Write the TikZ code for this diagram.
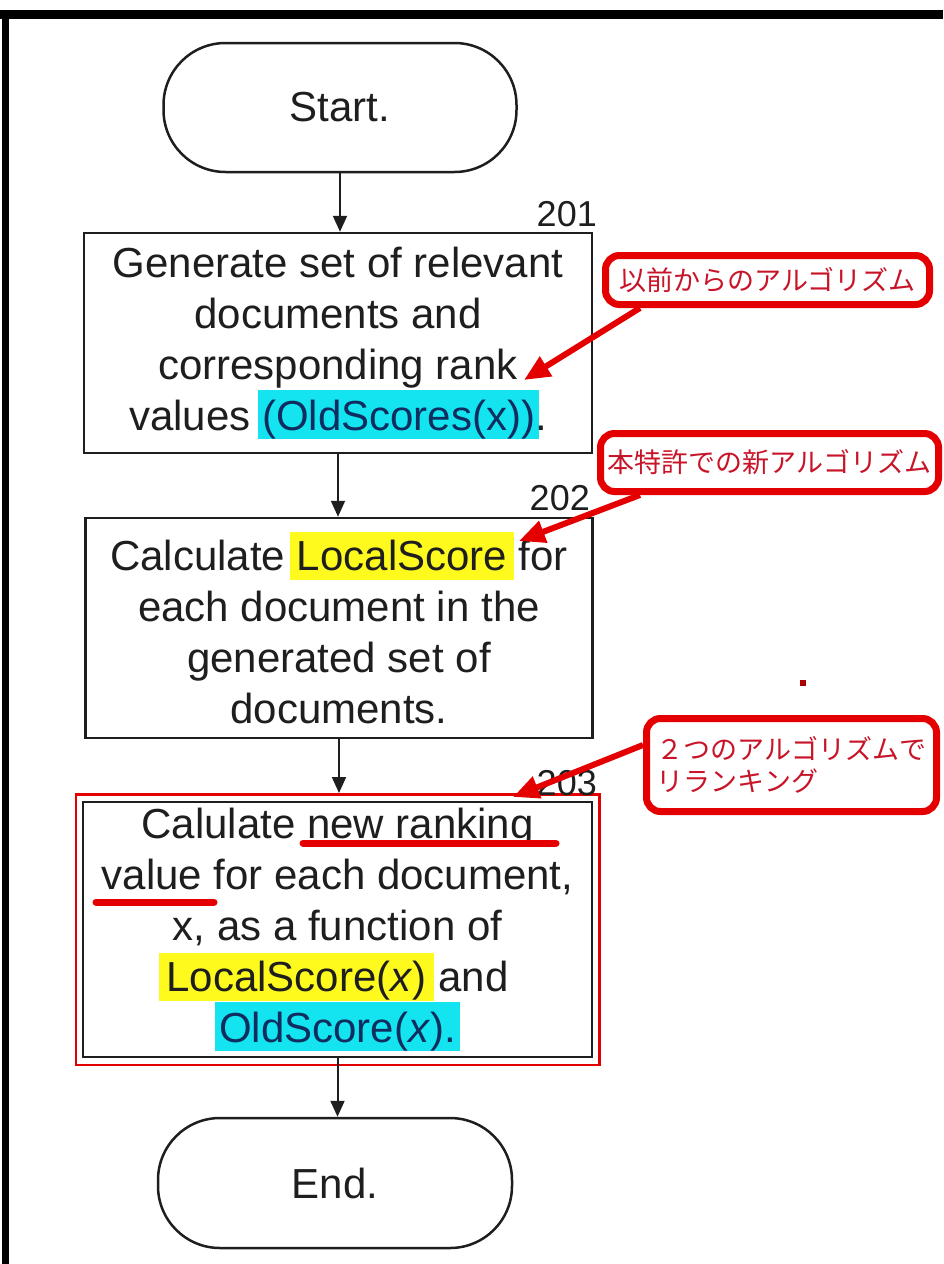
\documentclass[tikz,border=0pt]{standalone}
\usepackage{fontspec}
\setmainfont{Liberation Sans}
\newfontfamily\cjk{Noto Sans CJK JP}
\usetikzlibrary{arrows.meta,fit}
\definecolor{hlcyan}{RGB}{20,228,240}
\definecolor{hlyellow}{RGB}{255,250,30}
\definecolor{mred}{RGB}{228,0,0}
\definecolor{jred}{RGB}{200,20,40}
\definecolor{ink}{RGB}{30,30,30}
\definecolor{navy}{RGB}{15,45,95}
\newcommand\hlc[1]{{\setlength{\fboxsep}{0pt}\kern-4pt\colorbox{hlcyan}{\rule[-8pt]{0pt}{48pt}\kern4pt\color{navy}#1\kern4pt}\kern-4pt}}
\newcommand\hly[1]{{\setlength{\fboxsep}{0pt}\kern-7pt\colorbox{hlyellow}{\rule[-10pt]{0pt}{48pt}\kern7pt#1\kern7pt}\kern-7pt}}
\newcommand\flowfont{\fontsize{42}{51}\selectfont\setlength{\lineskiplimit}{-100pt}}
\newcommand\labfont{\fontsize{36}{40}\selectfont}
\newcommand\jpfont{\cjk\fontsize{27}{32}\selectfont}
\tikzset{
  flowbox/.style={draw=ink, line width=2.5pt, text=ink, align=center, inner sep=0pt, font=\flowfont},
  term/.style={flowbox, rounded corners=62pt},
  reflabel/.style={text=ink, inner sep=0pt, font=\labfont},
  flow/.style={draw=ink, line width=2pt, -{Triangle[length=16pt,width=14pt]}},
  callout/.style={draw=mred, line width=7pt, rounded corners=14pt, text=jred, inner sep=0pt, font=\jpfont},
  redarrow/.style={draw=mred, line width=6pt, -{Triangle[length=26pt,width=22pt]}},
  redmark/.style={draw=mred, line width=7pt, line cap=round}
}
\begin{document}
\begin{tikzpicture}[x=1pt,y=-1pt]
\useasboundingbox (0,0) rectangle (943,1264);
% outer frame (top and left only)
\fill[black] (0,10) rectangle (943,19);
\fill[black] (2,10) rectangle (9,1264);

% flowchart
\node[term, minimum width=353pt, minimum height=129pt] (start) at (340,107.5) {Start.};
\node[flowbox, minimum width=508pt, minimum height=220pt] (b201) at (338,343)
  {Generate set of relevant\\documents and\\corresponding rank\\values \hlc{(OldScores(x))}.};
\node[flowbox, minimum width=507pt, minimum height=220pt] (b202) at (339,628)
  {Calculate \hly{LocalScore} for\\each document in the\\generated set of\\documents.};
\node[flowbox, minimum width=509pt, minimum height=255pt] (b203) at (337.5,929.5)
  {Calulate new ranking\\value for each document,\\x, as a function of\\\hly{LocalScore(\textit{x})} and\\\hlc{OldScore(\textit{x}).}};
\node[draw=mred, line width=2.5pt, fit=(b203), inner xsep=6pt, inner ysep=6.5pt] (b203mark) {};
\node[term, minimum width=354pt, minimum height=130pt] (end) at (335,1183) {End.};

\node[reflabel, anchor=base east] (l201) at (597,226) {201};
\node[reflabel, anchor=base east] (l202) at (590,510) {202};
\node[reflabel, anchor=base east] (l203) at (597,795) {203};

\draw[flow] (start.south) -- (start.south |- b201.north);
\draw[flow] (b201.south) -- (b201.south |- b202.north);
\draw[flow] (b202.south) -- (b202.south |- b203mark.north);
\draw[flow] (b203.south) -- (b203.south |- end.north);

% red underlines
\draw[redmark] (303,843) -- (556,843);
\draw[redmark] (96,902) -- (214,902);

% callouts
\node[callout, minimum width=324pt, minimum height=49pt] (c1) at (767.5,280) {以前からのアルゴリズム};
\node[callout, minimum width=338pt, minimum height=58pt] (c2) at (769.5,462.5) {本特許での新アルゴリズム};
\node[callout, minimum width=290pt, minimum height=93pt, align=left] (c3) at (791.5,765)
  {２つのアルゴリズムで\\リランキング};

\coordinate (t1) at (524,380);
\coordinate (t2) at (519,541);
\coordinate (t3) at (513,797);
\draw[redarrow] ([xshift=38pt]c1.south west) -- (t1);
\draw[redarrow] ([xshift=43pt]c2.south west) -- (t2);
\draw[redarrow] ([yshift=20pt]c3.west) -- (t3);

% stray mark
\fill[mred!75!black] (800,680) rectangle (806,686);
\end{tikzpicture}
\end{document}
